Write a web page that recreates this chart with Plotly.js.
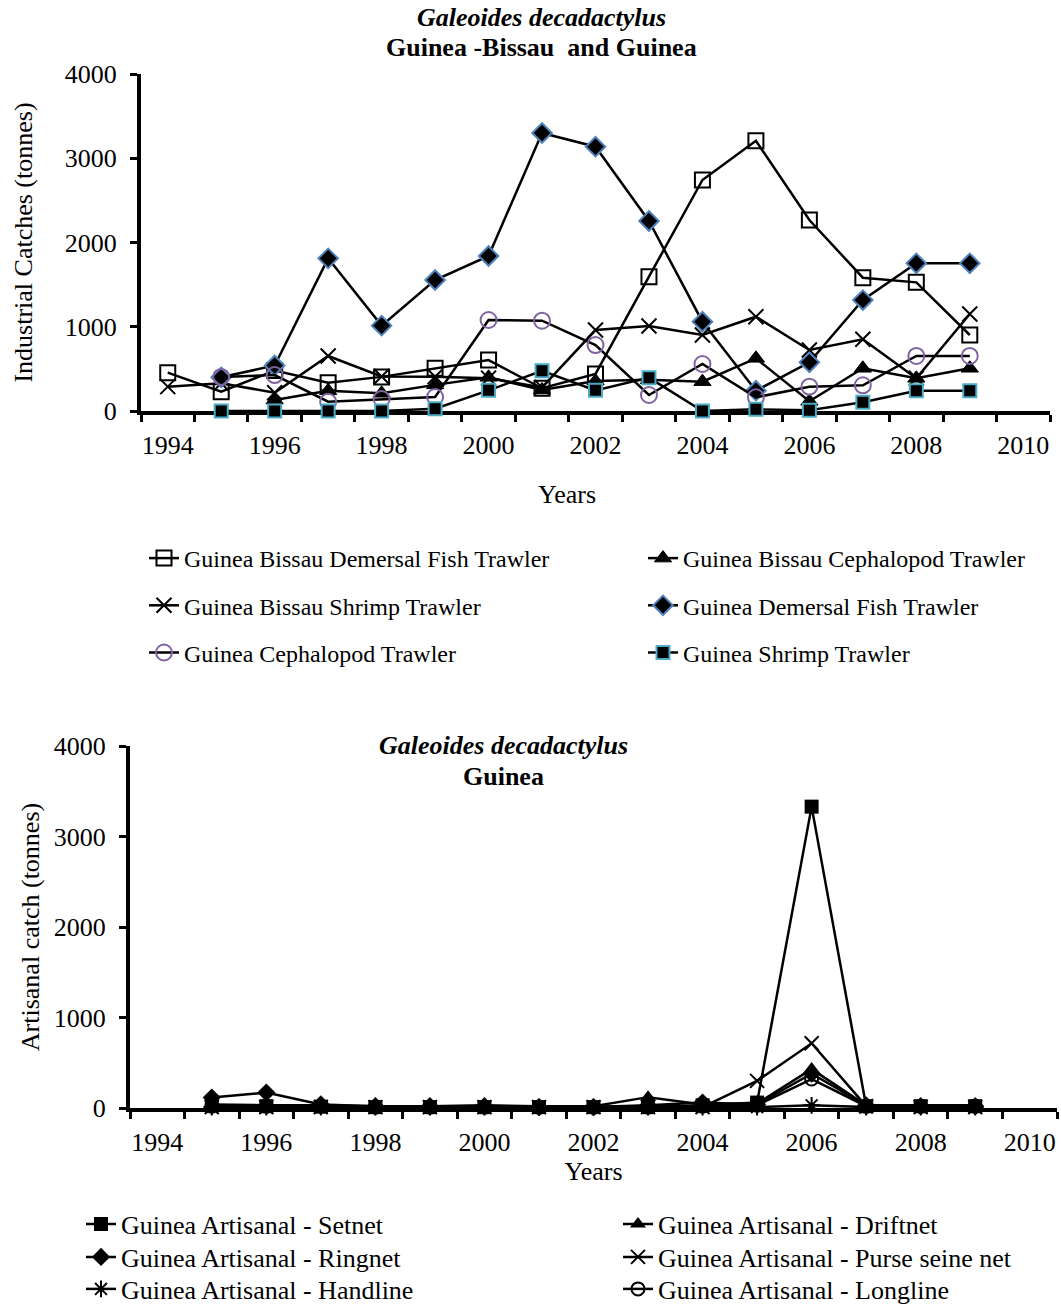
<!DOCTYPE html>
<html>
<head>
<meta charset="utf-8">
<script src="https://cdn.plot.ly/plotly-3.0.1.min.js"></script>
<style>html,body{margin:0;padding:0;background:#fff;}#chart{width:1061px;height:1306px;}</style>
</head>
<body>
<div id="chart"></div>
<script>
// ---------- data ----------
const years = [1994,1995,1996,1997,1998,1999,2000,2001,2002,2003,2004,2005,2006,2007,2008,2009];

// Industrial catches (tonnes) - Guinea-Bissau and Guinea
const gbDemersal      = [455, 229, 480, 335, 405, 507, 605, 270, 440, 1594, 2742, 3208, 2267, 1582, 1527, 902];
const gbCephalopod    = [null, null, 130, 240, 210, 310, 400, 250, 355, 370, 348, 625, 115, 507, 388, 507];
const gbShrimp        = [289, 330, 217, 653, 410, 407, 390, 280, 961, 1009, 902, 1119, 724, 851, 388, 1151];
const gnDemersal      = [null, 400, 540, 1812, 1013, 1555, 1840, 3300, 3137, 2255, 1060, 241, 578, 1317, 1753, 1753];
const gnCephalopod    = [null, 405, 427, 111, 142, 166, 1080, 1072, 783, 190, 558, 162, 289, 305, 653, 653];
const gnShrimp        = [null, 0, 0, 0, 0, 28, 245, 478, 245, 396, 0, 20, 10, 103, 241, 241];

// Artisanal catches (tonnes) - Guinea
const artSetnet     = [null, 30, 20, 15, 10, 10, 10, 10, 10, 10, 30, 60, 3330, 20, 20, 20];
const artDriftnet   = [null, 40, 30, 30, 20, 20, 30, 20, 20, 120, 40, 50, 430, 30, 30, 30];
const artRingnet    = [null, 115, 170, 40, 20, 20, 20, 10, 10, 30, 60, 40, 380, 30, 20, 20];
const artPurse      = [null, 10, 10, 10, 10, 10, 10, 10, 10, 10, 10, 300, 715, 20, 10, 10];
const artHandline   = [null, 10, 10, 10, 10, 10, 10, 10, 10, 10, 10, 10, 30, 10, 10, 10];
const artLongline   = [null, 20, 20, 20, 10, 10, 10, 10, 10, 10, 20, 30, 320, 20, 20, 20];

const xTickLabels = ['1994','1996','1998','2000','2002','2004','2006','2008','2010'];
const yTickLabels = ['0','1000','2000','3000','4000'];

const topNames = ['Guinea Bissau Demersal Fish Trawler','Guinea Bissau Cephalopod Trawler','Guinea Bissau Shrimp Trawler',
                  'Guinea Demersal Fish Trawler','Guinea Cephalopod Trawler','Guinea Shrimp Trawler'];
const botNames = ['Guinea Artisanal - Setnet','Guinea Artisanal - Driftnet','Guinea Artisanal - Ringnet',
                  'Guinea Artisanal - Purse seine net','Guinea Artisanal - Handline','Guinea Artisanal - Longline'];

const titleSpecies = 'Galeoides decadactylus';
const titleTop = 'Guinea -Bissau\u00a0 and Guinea';
const titleBottom = 'Guinea';

// ---------- build ----------
const W = 1061, H = 1306;
const FONT = 'Liberation Serif, Times New Roman, serif';
const px = v => v / W;
const py = v => 1 - v / H;

function tr(y, name, marker, xa, ya, legend, group) {
  const t = {
    type: 'scatter', mode: 'lines+markers', x: years, y: y, name: name,
    xaxis: xa, yaxis: ya, legend: legend,
    line: {color: 'black', width: 2.5}, marker: marker, cliponaxis: false,
    connectgaps: false
  };
  if (group) t.legendgroup = group;
  return t;
}

const blk = 'black';
const data = [
  tr(gbDemersal,   topNames[0], {symbol:'square-open', size:15, color:blk, line:{color:blk, width:2}}, 'x', 'y', 'legend', 'a1'),
  tr(gbCephalopod, topNames[1], {symbol:'triangle-up', size:15, color:blk, line:{color:blk, width:1}}, 'x', 'y', 'legend2', 'a2'),
  tr(gbShrimp,     topNames[2], {symbol:'x-thin-open', size:15, color:blk, line:{color:blk, width:2}}, 'x', 'y', 'legend', 'a3'),
  tr(gnDemersal,   topNames[3], {symbol:'diamond', size:15, color:blk, line:{color:'#4f81bd', width:2}}, 'x', 'y', 'legend2', 'a4'),
  tr(gnCephalopod, topNames[4], {symbol:'circle-open', size:16, color:'#8064a2', line:{color:'#8064a2', width:2}}, 'x', 'y', 'legend', 'a5'),
  tr(gnShrimp,     topNames[5], {symbol:'square', size:13, color:blk, line:{color:'#4bacc6', width:2}}, 'x', 'y', 'legend2', 'a6'),

  tr(artSetnet,   botNames[0], {symbol:'square', size:14, color:blk}, 'x2', 'y2', 'legend3'),
  tr(artDriftnet, botNames[1], {symbol:'triangle-up', size:14, color:blk}, 'x2', 'y2', 'legend4'),
  tr(artRingnet,  botNames[2], {symbol:'diamond', size:14, color:blk}, 'x2', 'y2', 'legend5'),
  tr(artPurse,    botNames[3], {symbol:'x-thin-open', size:14, color:blk, line:{color:blk, width:2}}, 'x2', 'y2', 'legend6'),
  tr(artHandline, botNames[4], {symbol:'asterisk-open', size:14, color:blk, line:{color:blk, width:2}}, 'x2', 'y2', 'legend7'),
  tr(artLongline, botNames[5], {symbol:'circle-open', size:13, color:blk, line:{color:blk, width:2}}, 'x2', 'y2', 'legend8')
];

function xaxis(domain, anchor, title, standoff, labelPush) {
  return {
    domain: domain, anchor: anchor, range: [1993.5, 2010.5],
    tickmode: 'array', tickvals: xTickLabels.map(Number), ticktext: xTickLabels,
    ticks: 'outside', ticklen: labelPush, tickcolor: 'rgba(0,0,0,0)',
    minor: {ticks: 'outside', tickmode: 'linear', tick0: 1993.5, dtick: 1, ticklen: 7, tickwidth: 3, tickcolor: 'black'},
    showline: true, linecolor: 'black', linewidth: 4, showgrid: false, zeroline: false,
    tickfont: {family: FONT, size: 26, color: 'black'},
    title: {text: title, font: {family: FONT, size: 26, color: 'black'}, standoff: standoff},
    layer: 'below traces', fixedrange: true, automargin: false
  };
}
function yaxis(domain, anchor, title, standoff) {
  return {
    domain: domain, anchor: anchor, range: [0, 4000],
    tickmode: 'array', tickvals: yTickLabels.map(Number), ticktext: yTickLabels,
    ticks: 'outside', ticklen: 7, tickwidth: 3, tickcolor: 'black', ticklabelstandoff: 8,
    showline: true, linecolor: 'black', linewidth: 4, showgrid: false, zeroline: false,
    tickfont: {family: FONT, size: 26, color: 'black'},
    title: {text: title, font: {family: FONT, size: 26, color: 'black'}, standoff: standoff},
    layer: 'below traces', fixedrange: true, automargin: false
  };
}

function vlegend(xLeft, yTop, fs, gap) {
  return {
    x: px(xLeft), y: py(yTop), xanchor: 'left', yanchor: 'top',
    orientation: 'v', tracegroupgap: gap, bgcolor: 'rgba(0,0,0,0)',
    font: {family: FONT, size: fs, color: 'black'}
  };
}
function mlegend(xLeft, yMid, fs) {
  return {
    x: px(xLeft), y: py(yMid), xanchor: 'left', yanchor: 'middle',
    orientation: 'v', bgcolor: 'rgba(0,0,0,0)',
    font: {family: FONT, size: fs, color: 'black'}
  };
}
function ann(text, x, y) {
  return {xref: 'paper', yref: 'paper', x: px(x), y: py(y), xanchor: 'center', yanchor: 'middle',
          text: text, showarrow: false, font: {family: FONT, size: 26, color: 'black'}};
}

const layout = {
  width: W, height: H, margin: {l: 0, r: 0, t: 0, b: 0, autoexpand: false},
  paper_bgcolor: 'white', plot_bgcolor: 'white', showlegend: true,
  font: {family: FONT, color: 'black'},
  xaxis: xaxis([px(141), px(1050)], 'y', '', 0, 8),
  yaxis: yaxis([py(411), py(74)], 'x', 'Industrial Catches (tonnes)', 26),
  xaxis2: xaxis([px(130), px(1057)], 'y2', 'Years', 0, 8),
  yaxis2: yaxis([py(1108), py(746)], 'x2', 'Artisanal catch (tonnes)', 8),
  legend:  vlegend(144, 536, 24, 13),
  legend2: vlegend(643, 536, 24, 13),
  legend3: mlegend(81, 1224, 26),
  legend4: mlegend(618, 1224, 26),
  legend5: mlegend(81, 1257, 26),
  legend6: mlegend(618, 1257, 26),
  legend7: mlegend(81, 1289, 26),
  legend8: mlegend(618, 1289, 26),
  annotations: [
    ann('<b><i>' + titleSpecies + '</i></b>', 541, 17),
    ann('<b>' + titleTop + '</b>', 541, 47),
    ann('Years', 567, 494),
    ann('<b><i>' + titleSpecies + '</i></b>', 503, 745),
    ann('<b>' + titleBottom + '</b>', 503, 776)
  ]
};

Plotly.newPlot('chart', data, layout, {staticPlot: true, displayModeBar: false});
</script>
</body>
</html>
